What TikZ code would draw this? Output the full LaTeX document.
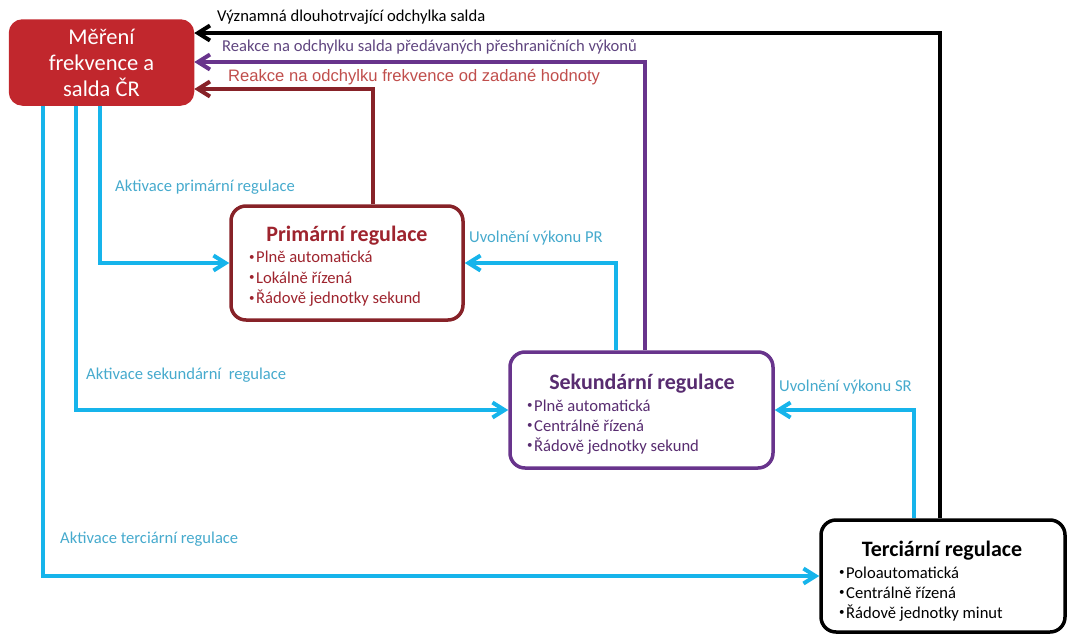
\documentclass[tikz,border=0pt]{standalone}
\usepackage{fontspec}
\setmainfont{Carlito}
\newfontfamily\arialf{Liberation Sans}
\usetikzlibrary{arrows.meta}
\definecolor{cyanA}{RGB}{22,180,235}
\definecolor{cyanT}{RGB}{70,170,205}
\definecolor{redF}{RGB}{193,39,45}
\definecolor{redB}{RGB}{135,34,40}
\definecolor{redT}{RGB}{158,36,46}
\definecolor{redL}{RGB}{192,78,76}
\definecolor{purB}{RGB}{104,52,140}
\definecolor{purL}{RGB}{96,70,128}
\definecolor{purT}{RGB}{88,44,112}
\newcommand{\bu}{{\fontsize{11}{11}\selectfont\raisebox{0.4ex}{•}}\hspace{1.5pt}}
\tikzset{
  x=1pt,y=-1pt,
  box/.style={rounded corners=15pt,line width=3.5pt,fill=white,inner sep=0pt},
  conn/.style={line width=4pt,-{Straight Barb[length=12pt,width=15pt,line width=4pt]}},
  cy/.style={conn,draw=cyanA},
  lbl/.style={anchor=base west,inner sep=0pt,font=\fontsize{16.6}{18}\selectfont},
  ttl/.style={anchor=base,inner sep=0pt,font=\fontsize{22}{24}\selectfont\bfseries},
  bul/.style={anchor=base west,inner sep=0pt,font=\fontsize{16.6}{20}\selectfont},
}
\begin{document}
\begin{tikzpicture}
\useasboundingbox (0,0) rectangle (1071,635);
% boxes
\node[box,draw=redF,fill=redF,rounded corners=12pt,minimum width=182pt,minimum height=83pt] (meas) at (101.5,62.5) {};
\node[box,draw=redB,minimum width=232pt,minimum height=114pt] (prim) at (347,263) {};
\node[box,draw=purB,minimum width=263pt,minimum height=116pt] (sek) at (641.5,410) {};
\node[box,draw=black,minimum width=244pt,minimum height=112pt] (ter) at (943,576) {};
% box texts
\node[anchor=base,inner sep=0pt,text=white,font=\fontsize{22.5}{26.7}\selectfont] (meas1) at (101.5,44) {Měření};
\node[anchor=base,inner sep=0pt,text=white,font=\fontsize{22.5}{26.7}\selectfont] (meas2) at (101.5,70) {frekvence a};
\node[anchor=base,inner sep=0pt,text=white,font=\fontsize{22.5}{26.7}\selectfont] (meas3) at (101.5,96) {salda ČR};
\node[ttl,text=redT] (primt) at (347,241) {Primární regulace};
\node[bul,text=redT] (primb1) at (249,262.5) {\bu Plně automatická};
\node[bul,text=redT] (primb2) at (249,283) {\bu Lokálně řízená};
\node[bul,text=redT] (primb3) at (249,303.5) {\bu Řádově jednotky sekund};
\node[ttl,text=purT] (sekt) at (642,389) {Sekundární regulace};
\node[bul,text=purT] (sekb1) at (527,411) {\bu Plně automatická};
\node[bul,text=purT] (sekb2) at (527,431) {\bu Centrálně řízená};
\node[bul,text=purT] (sekb3) at (527,451) {\bu Řádově jednotky sekund};
\node[ttl,text=black] (tert) at (942,556) {Terciární regulace};
\node[bul,text=black] (terb1) at (839,578) {\bu Poloautomatická};
\node[bul,text=black] (terb2) at (839,598) {\bu Centrálně řízená};
\node[bul,text=black] (terb3) at (839,618) {\bu Řádově jednotky minut};
% feedback connectors
\draw[conn,draw=black] (ter.north -| 940,0) |- (meas.east |- 0,33);
\draw[conn,draw=purB] (sek.north -| 645,0) |- (meas.east |- 0,62);
\draw[conn,draw=redB] (prim.north -| 373,0) |- (meas.east |- 0,89);
% activation connectors
\draw[cy] (meas.south -| 100,0) |- (prim.west);
\draw[cy] (meas.south -| 76,0) |- (sek.west);
\draw[cy] (meas.south -| 43,0) |- (ter.west);
\draw[cy] (sek.north -| 616,0) |- (prim.east);
\draw[cy] (ter.north -| 914,0) |- (sek.east);
% labels
\node[lbl,text=black] (l1) at (217,21.5) {Významná dlouhotrvající odchylka salda};
\node[lbl,text=purL] (l2) at (222,51.5) {Reakce na odchylku salda předávaných přeshraničních výkonů};
\node[lbl,text=redL,font=\arialf\fontsize{16.6}{18}\selectfont] (l3) at (228,81) {Reakce na odchylku frekvence od zadané hodnoty};
\node[lbl,text=cyanT] (l4) at (115,191) {Aktivace primární regulace};
\node[lbl,text=cyanT] (l5) at (86,379) {Aktivace sekundární\ \ regulace};
\node[lbl,text=cyanT] (l6) at (60,543) {Aktivace terciární regulace};
\node[lbl,text=cyanT] (l7) at (469,242) {Uvolnění výkonu PR};
\node[lbl,text=cyanT] (l8) at (779,391) {Uvolnění výkonu SR};
\end{tikzpicture}
\end{document}
